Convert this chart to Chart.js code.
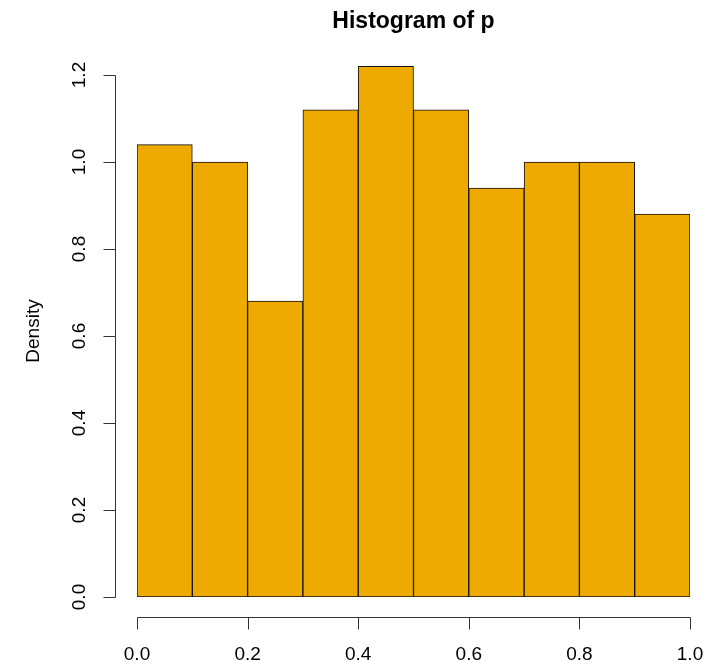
<!DOCTYPE html>
<html>
<head>
<meta charset="utf-8">
<script src="https://cdn.jsdelivr.net/npm/chart.js@4/dist/chart.umd.min.js"></script>
<style>
  html, body { margin: 0; padding: 0; background: #fff; }
  #wrap { width: 711px; height: 664px; }
</style>
</head>
<body>
<div id="wrap"><canvas id="c" width="711" height="664"></canvas></div>
<script>
// Histogram of p: bin edges and density per bin
const binEdges = [0.0, 0.1, 0.2, 0.3, 0.4, 0.5, 0.6, 0.7, 0.8, 0.9, 1.0];
const density = [1.04, 1.00, 0.68, 1.12, 1.22, 1.12, 0.94, 1.00, 1.00, 0.88];
const xTicks = [0.0, 0.2, 0.4, 0.6, 0.8, 1.0];
const yTicks = [0.0, 0.2, 0.4, 0.6, 0.8, 1.0, 1.2];
const titleText = 'Histogram of p';
const yLabel = 'Density';

const bars = density.map((d, i) => ({ x: (binEdges[i] + binEdges[i + 1]) / 2, y: d }));

const FONT = '"Liberation Sans", Arial, Helvetica, sans-serif';

// Base-graphics style axes: detached lines spanning first to last tick
const rAxes = {
  id: 'rAxes',
  afterDraw(chart) {
    const ctx = chart.ctx;
    const xs = chart.scales.x, ys = chart.scales.y;
    const area = chart.chartArea;
    ctx.save();
    ctx.strokeStyle = '#333';
    ctx.fillStyle = '#000';
    ctx.lineWidth = 1;

    // x axis
    const xAxisY = Math.round(ys.getPixelForValue(0)) + 20.5;
    const x0 = Math.round(xs.getPixelForValue(xTicks[0])) + 0.5;
    const x1 = Math.round(xs.getPixelForValue(xTicks[xTicks.length - 1])) + 0.5;
    ctx.beginPath();
    ctx.moveTo(x0, xAxisY); ctx.lineTo(x1, xAxisY);
    xTicks.forEach(v => {
      const px = Math.round(xs.getPixelForValue(v)) + 0.5;
      ctx.moveTo(px, xAxisY); ctx.lineTo(px, xAxisY + 12);
    });
    ctx.stroke();
    ctx.font = '19px ' + FONT;
    ctx.textAlign = 'center';
    ctx.textBaseline = 'middle';
    xTicks.forEach(v => {
      ctx.fillText(v.toFixed(1), xs.getPixelForValue(v), xAxisY + 37);
    });

    // y axis
    const yAxisX = Math.round(area.left) - 21.5;
    const y0 = Math.round(ys.getPixelForValue(yTicks[0])) + 0.5;
    const y1 = Math.round(ys.getPixelForValue(yTicks[yTicks.length - 1])) + 0.5;
    ctx.beginPath();
    ctx.moveTo(yAxisX, y0); ctx.lineTo(yAxisX, y1);
    yTicks.forEach(v => {
      const py = Math.round(ys.getPixelForValue(v)) + 0.5;
      ctx.moveTo(yAxisX, py); ctx.lineTo(yAxisX - 12, py);
    });
    ctx.stroke();
    yTicks.forEach(v => {
      ctx.save();
      ctx.translate(yAxisX - 36, ys.getPixelForValue(v));
      ctx.rotate(-Math.PI / 2);
      ctx.fillText(v.toFixed(1), 0, 0);
      ctx.restore();
    });

    // y title
    ctx.save();
    ctx.font = '19px ' + FONT;
    ctx.translate(34, 331);
    ctx.rotate(-Math.PI / 2);
    ctx.fillText(yLabel, 0, 0);
    ctx.restore();

    // main title
    ctx.font = 'bold 23px ' + FONT;
    ctx.fillText(titleText, (area.left + area.right) / 2, 22);
    ctx.restore();
  }
};

new Chart(document.getElementById('c'), {
  type: 'bar',
  data: {
    datasets: [{
      data: bars,
      backgroundColor: '#EEAA00',
      borderColor: '#111',
      borderWidth: 1,
      borderSkipped: false,
      barPercentage: 1.0,
      categoryPercentage: 1.0
    }]
  },
  options: {
    responsive: false,
    animation: false,
    devicePixelRatio: 1,
    layout: { padding: { left: 137, right: 21, top: 31.5, bottom: 67 } },
    plugins: { legend: { display: false }, tooltip: { enabled: false }, title: { display: false } },
    scales: {
      x: { type: 'linear', min: 0, max: 1, offset: false, display: false, ticks: { stepSize: 0.2 } },
      y: { min: 0, max: 1.3, display: false }
    }
  },
  plugins: [rAxes]
});
</script>
</body>
</html>
